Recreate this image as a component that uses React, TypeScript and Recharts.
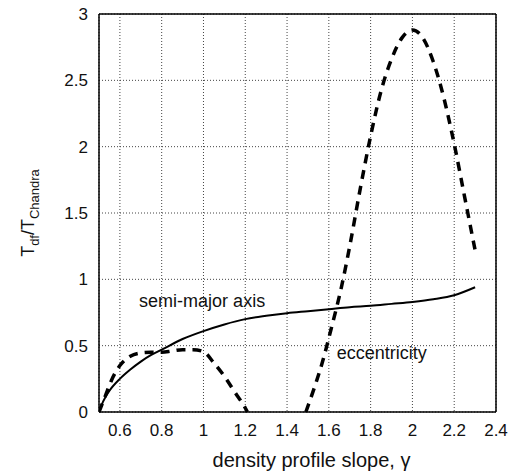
import { LineChart, Line, XAxis, YAxis, CartesianGrid, ReferenceDot } from "recharts";

// semi-major axis curve (solid)
const semiX = [0.5, 0.52, 0.55, 0.6, 0.65, 0.7, 0.75, 0.8, 0.9, 1.0, 1.1, 1.2, 1.3, 1.4, 1.5, 1.6, 1.7, 1.8, 1.9, 2.0, 2.1, 2.2, 2.3];
const semiY = [0, 0.08, 0.16, 0.25, 0.32, 0.38, 0.43, 0.47, 0.55, 0.61, 0.66, 0.7, 0.725, 0.745, 0.76, 0.775, 0.79, 0.8, 0.815, 0.83, 0.85, 0.88, 0.94];

// eccentricity curve (dashed), null = gap where it sits at zero
const eccX = [0.5, 0.53, 0.56, 0.6, 0.65, 0.7, 0.75, 0.8, 0.85, 0.9, 0.95, 1.0, 1.05, 1.1, 1.15, 1.2, 1.21, 1.35, 1.49, 1.53, 1.57, 1.61, 1.66, 1.7, 1.75, 1.8, 1.85, 1.9, 1.95, 2.0, 2.05, 2.1, 2.15, 2.2, 2.25, 2.3];
const eccY: (number | null)[] = [0, 0.12, 0.24, 0.35, 0.42, 0.445, 0.45, 0.45, 0.46, 0.47, 0.47, 0.455, 0.37, 0.27, 0.15, 0.03, 0, null, 0, 0.18, 0.38, 0.62, 0.94, 1.25, 1.68, 2.08, 2.42, 2.66, 2.82, 2.88, 2.82, 2.64, 2.37, 2.02, 1.62, 1.22];

const xTicks = [0.6, 0.8, 1, 1.2, 1.4, 1.6, 1.8, 2, 2.2, 2.4];
const yTicks = [0, 0.5, 1, 1.5, 2, 2.5, 3];

const semiData = semiX.map((x, i) => ({ x, y: semiY[i] }));
const eccData = eccX.map((x, i) => ({ x, y: eccY[i] }));

const font = "'Liberation Sans', Arial, Helvetica, sans-serif";
const tickStyle = { fontSize: 17, fill: "#111", fontFamily: font };

const YTitle = () => (
  <text
    x={34}
    y={213}
    transform="rotate(-90, 34, 213)"
    textAnchor="middle"
    fontSize={18}
    fontFamily={font}
    fill="#111"
  >
    T<tspan fontSize={13} dy={5}>df</tspan>
    <tspan dy={-5}>/T</tspan>
    <tspan fontSize={13} dy={5}>Chandra</tspan>
  </text>
);

const note = (text: string) => (props: any) => {
  const { viewBox } = props;
  return (
    <text x={viewBox.x} y={viewBox.y} fontSize={18} fontFamily={font} fill="#111">
      {text}
    </text>
  );
};

// frame axes: ticks only, drawn inward
const frameX = (id: string, orientation: "top" | "bottom") => (
  <XAxis
    xAxisId={id}
    orientation={orientation}
    dataKey="x"
    type="number"
    domain={[0.5, 2.4]}
    ticks={xTicks}
    height={1}
    mirror
    tick={false}
    tickSize={6}
    stroke="#000"
    strokeWidth={1.5}
  />
);
const frameY = (id: string, orientation: "left" | "right") => (
  <YAxis
    yAxisId={id}
    orientation={orientation}
    type="number"
    domain={[0, 3]}
    ticks={yTicks}
    width={1}
    mirror
    tick={false}
    tickSize={6}
    stroke="#000"
    strokeWidth={1.5}
  />
);

export default function App() {
  return (
    <div style={{ position: "absolute", left: 0, top: 0 }}>
      <LineChart width={518} height={471} margin={{ top: 14, right: 22, bottom: 0, left: 0 }}>
        {frameX("bf", "bottom")}
        {frameX("t", "top")}
        {frameY("lf", "left")}
        {frameY("r", "right")}
        <XAxis
          xAxisId="b"
          dataKey="x"
          type="number"
          domain={[0.5, 2.4]}
          ticks={xTicks}
          height={59}
          tick={tickStyle}
          tickLine={false}
          axisLine={false}
          tickSize={0}
          tickMargin={12}
          allowDataOverflow
          label={{ value: "density profile slope, γ", position: "insideBottom", offset: 4, dx: 14, style: { fontSize: 20, fill: "#111", fontFamily: font } }}
        />
        <YAxis
          yAxisId="l"
          type="number"
          domain={[0, 3]}
          ticks={yTicks}
          width={99}
          tick={tickStyle}
          tickLine={false}
          axisLine={false}
          tickSize={0}
          tickMargin={11}
          label={<YTitle />}
        />
        <CartesianGrid xAxisId="b" yAxisId="l" stroke="#444" strokeDasharray="1 2" strokeWidth={1} />
        {/* invisible series so the frame axes are drawn */}
        <Line xAxisId="t" yAxisId="r" data={semiData} dataKey="y" stroke="none" dot={false} activeDot={false} isAnimationActive={false} />
        <Line xAxisId="bf" yAxisId="lf" data={semiData} dataKey="y" stroke="none" dot={false} activeDot={false} isAnimationActive={false} />
        <Line
          xAxisId="b"
          yAxisId="l"
          data={semiData}
          dataKey="y"
          type="monotone"
          stroke="#000"
          strokeWidth={2}
          dot={false}
          isAnimationActive={false}
        />
        <Line
          xAxisId="b"
          yAxisId="l"
          data={eccData}
          dataKey="y"
          type="monotone"
          stroke="#000"
          strokeWidth={3.5}
          strokeDasharray="9 7"
          dot={false}
          isAnimationActive={false}
        />
        <ReferenceDot xAxisId="b" yAxisId="l" x={0.692} y={0.79} r={0} fill="none" stroke="none" label={note("semi-major axis")} />
        <ReferenceDot xAxisId="b" yAxisId="l" x={1.638} y={0.4} r={0} fill="none" stroke="none" label={note("eccentricity")} />
      </LineChart>
    </div>
  );
}
